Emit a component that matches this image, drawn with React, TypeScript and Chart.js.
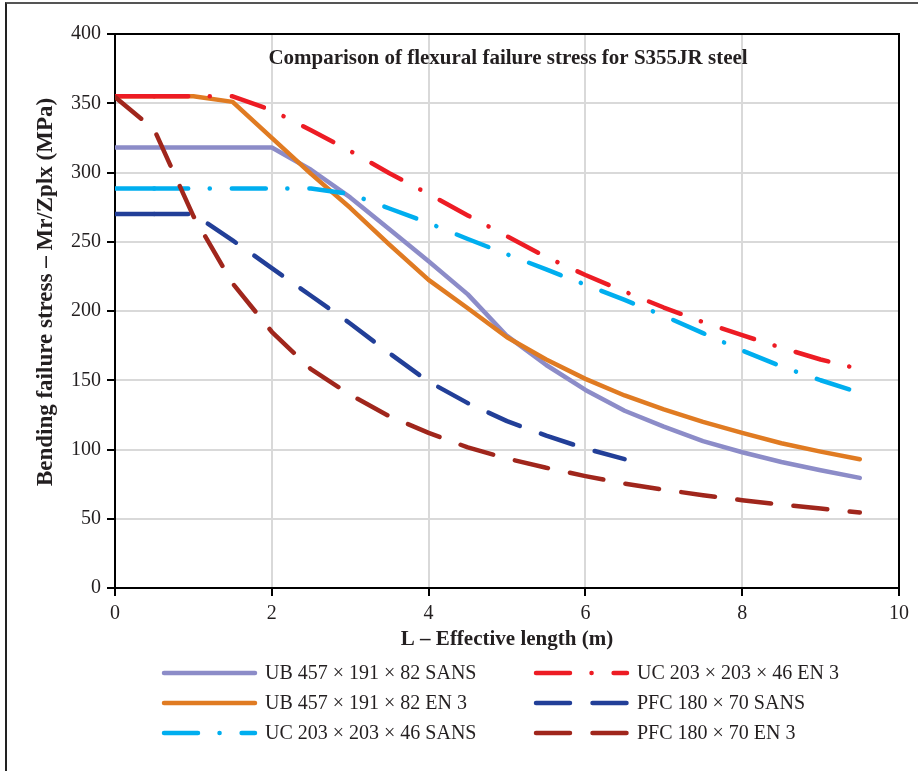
import React, { useEffect, useRef } from "react";
import { Chart, registerables } from "chart.js";

Chart.register(...registerables);

// ---- data ----
const lengths = [0, 0.5, 1, 1.5, 2, 2.5, 3, 3.5, 4, 4.5, 5, 5.5, 6, 6.5, 7, 7.5, 8, 8.5, 9, 9.5];

const ubSans = [318, 318, 318, 318, 318, 302, 282, 259, 236, 212, 182, 161, 143, 128, 116.5, 106, 98, 91, 85, 79.5];
const ubEn3 = [355, 355, 355, 351, 325, 299, 274.5, 248, 222.5, 202, 181, 165, 151, 139, 129, 120, 112, 104.5, 98.5, 93];
const ucSans = [288.5, 288.5, 288.5, 288.5, 288.5, 288.5, 284.5, 274, 263.5, 252, 241, 230, 219, 208, 196.5, 184, 171.5, 160, 150, 141];
const ucEn3 = [355, 355, 355, 355, 345, 330.5, 315.5, 299.5, 284.5, 269, 254, 239, 226, 214, 202.5, 192, 182.5, 173.5, 165, 158];
const pfcSans = [270, 270, 270, 251, 231, 211, 191, 169.5, 149, 133.5, 120.5, 110, 100.7, 93];
const pfcEn3 = [354.5, 331, 268.5, 220, 185, 158, 139.5, 124, 112, 101.5, 93.5, 86.8, 80.8, 75.3, 71, 67, 63.4, 60.2, 57.4, 54.5];

const seriesLabels = [
  "UB 457 × 191 × 82 SANS",
  "UB 457 × 191 × 82 EN 3",
  "UC 203 × 203 × 46 SANS",
  "UC 203 × 203 × 46 EN 3",
  "PFC 180 × 70 SANS",
  "PFC 180 × 70 EN 3",
];

const chartTitle = "Comparison of flexural failure stress for S355JR steel";
const xTitle = "L – Effective length (m)";
const yTitle = "Bending failure stress – Mr/Zplx (MPa)";

const xMin = 0;
const xMax = 10;
const xStep = 2;
const yMin = 0;
const yMax = 400;
const yStep = 50;

// ---- styles ----
const FONT = "'Liberation Serif', 'Times New Roman', serif";
const TEXT = "#231F20";
const GRID = "#D9D9D9";

const colors = ["#8C8CC8", "#E07B22", "#00AEEF", "#ED1C24", "#223F98", "#A0261C"];
const SOLID: number[] = [];
const DASH_DOT = [34, 21.5, 0.1, 22];
const DASH = [34, 22.5];
const dashes = [SOLID, SOLID, DASH_DOT, DASH_DOT, DASH, DASH];
// number of leading segments drawn solid before the dash pattern starts
const leadSolid = [0, 0, 1, 1, 1, 0];

const toPoints = (vals: number[]) => vals.map((v, i) => ({ x: lengths[i], y: v }));

const seriesValues = [ubSans, ubEn3, ucSans, ucEn3, pfcSans, pfcEn3];

const framePlugin = {
  id: "plotFrame",
  beforeDatasetsDraw(chart: any) {
    const { ctx, chartArea: a } = chart;
    ctx.save();
    ctx.strokeStyle = "#000";
    ctx.lineWidth = 2;
    ctx.beginPath();
    ctx.moveTo(a.left, a.top);
    ctx.lineTo(a.right, a.top);
    ctx.lineTo(a.right, a.bottom);
    ctx.stroke();
    ctx.restore();
  },
};

const textPlugin = {
  id: "chartTexts",
  afterDraw(chart: any) {
    const { ctx, chartArea: a } = chart;
    ctx.save();
    ctx.fillStyle = TEXT;
    // inner title
    ctx.font = `bold 21px ${FONT}`;
    ctx.textAlign = "center";
    ctx.textBaseline = "alphabetic";
    ctx.fillText(chartTitle, (a.left + a.right) / 2 + 1, a.top + 29.5);
    // y axis title
    ctx.save();
    ctx.translate(46, a.top + (a.bottom - a.top) / 2 - 19);
    ctx.rotate(-Math.PI / 2);
    ctx.font = `bold 23px ${FONT}`;
    ctx.textBaseline = "middle";
    ctx.fillText(yTitle, 0, 0);
    ctx.restore();
    ctx.restore();
  },
};

const legendPlugin = {
  id: "twoColumnLegend",
  afterDraw(chart: any) {
    const { ctx, chartArea: a } = chart;
    const colLine = [49, 421];
    const lineLen = 91;
    const textGap = 10;
    const rows = [85, 115, 145];
    ctx.save();
    ctx.font = `20px ${FONT}`;
    ctx.fillStyle = TEXT;
    ctx.textAlign = "left";
    ctx.textBaseline = "middle";
    chart.data.datasets.forEach((ds: any, i: number) => {
      const col = i < 3 ? 0 : 1;
      const row = i % 3;
      const x0 = a.left + colLine[col];
      const y = a.bottom + rows[row];
      ctx.save();
      ctx.strokeStyle = ds.borderColor;
      ctx.lineWidth = ds.borderWidth;
      ctx.lineCap = "round";
      ctx.setLineDash(ds.borderDash || []);
      ctx.beginPath();
      ctx.moveTo(x0, y);
      ctx.lineTo(x0 + lineLen, y);
      ctx.stroke();
      ctx.restore();
      ctx.fillText(ds.label, x0 + lineLen + textGap, y + 1);
    });
    ctx.restore();
  },
};

export default function App() {
  const canvasRef = useRef<HTMLCanvasElement | null>(null);

  useEffect(() => {
    if (!canvasRef.current) return;
    const datasets = seriesValues.map((vals, i) => ({
      label: seriesLabels[i],
      data: toPoints(vals),
      borderColor: colors[i],
      backgroundColor: colors[i],
      borderWidth: 4.5,
      borderDash: dashes[i],
      borderCapStyle: "round" as const,
      borderJoinStyle: "round" as const,
      segment: {
        borderDash: (c: any) => (c.p0DataIndex < leadSolid[i] ? SOLID : dashes[i]),
      },
      pointRadius: 0,
      pointHoverRadius: 0,
      tension: 0,
      fill: false,
      order: seriesValues.length - i,
    }));

    const chart = new Chart(canvasRef.current, {
      type: "line",
      data: { datasets },
      options: {
        animation: false,
        responsive: false,
        devicePixelRatio: 1,
        layout: { padding: { left: 0, right: 19, top: 34, bottom: 119 } },
        plugins: {
          legend: { display: false },
          title: { display: false },
          tooltip: { enabled: false },
        },
        events: [],
        scales: {
          x: {
            type: "linear",
            min: xMin,
            max: xMax,
            afterFit: (s: any) => {
              s.height = 64;
            },
            ticks: {
              stepSize: xStep,
              color: TEXT,
              font: { family: FONT, size: 20 },
              padding: 6,
              maxRotation: 0,
            },
            grid: {
              color: GRID,
              lineWidth: 2,
              tickLength: 8,
              tickColor: "#000",
              tickWidth: 2,
            },
            border: { color: "#000", width: 2 },
            title: {
              display: true,
              text: xTitle,
              color: TEXT,
              font: { family: FONT, size: 21, weight: "bold" },
              padding: { top: 0, bottom: 0 },
            },
          },
          y: {
            type: "linear",
            min: yMin,
            max: yMax,
            afterFit: (s: any) => {
              s.width = 115;
            },
            ticks: {
              stepSize: yStep,
              color: TEXT,
              font: { family: FONT, size: 20 },
              padding: 6,
            },
            grid: {
              color: GRID,
              lineWidth: 2,
              tickLength: 8,
              tickColor: "#000",
              tickWidth: 2,
            },
            border: { color: "#000", width: 2 },
            title: { display: false, text: yTitle },
          },
        },
      },
      plugins: [framePlugin, textPlugin, legendPlugin],
    });

    return () => chart.destroy();
  }, []);

  return (
    <div
      style={{
        position: "fixed",
        left: 0,
        top: 0,
        width: 918,
        height: 771,
        overflow: "hidden",
        background: "#fff",
      }}
    >
      <div
        style={{
          position: "absolute",
          left: 5,
          top: 2,
          width: 2000,
          height: 2000,
          borderTop: "2px solid #555",
          borderLeft: "2px solid #222",
        }}
      />
      <canvas
        ref={canvasRef}
        width={918}
        height={771}
        style={{ position: "absolute", left: 0, top: 0, width: 918, height: 771 }}
      />
    </div>
  );
}
